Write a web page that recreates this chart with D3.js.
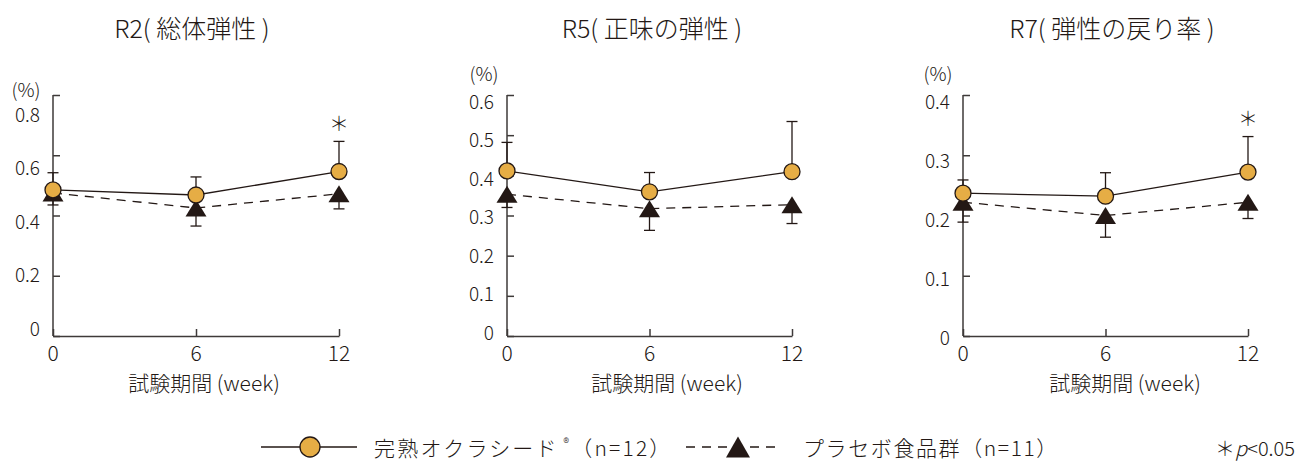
<!DOCTYPE html>
<html>
<head>
<meta charset="utf-8">
<script src="https://cdn.jsdelivr.net/npm/d3@7"></script>
<style>
  html, body { margin: 0; padding: 0; background: #fff; }
  svg { display: block; }
  text { font-family: "Noto Sans CJK JP", "Noto Sans", sans-serif; fill: #231815; font-weight: 300; }
</style>
</head>
<body>
<svg id="chart" width="1297" height="462"></svg>
<script>
// ---- data ----
const weeks = [0, 6, 12];
const weekLabels = ["0", "6", "12"];
const titles = ["R2( 総体弾性 )", "R5( 正味の弾性 )", "R7( 弾性の戻り率 )"];
const yMax = [0.8, 0.6, 0.4];
const yTicks = [
  [0, 0.2, 0.4, 0.6, 0.8],
  [0, 0.1, 0.2, 0.3, 0.4, 0.5, 0.6],
  [0, 0.1, 0.2, 0.3, 0.4]
];
const okraMean = [[0.485, 0.468, 0.546], [0.411, 0.359, 0.409], [0.237, 0.232, 0.272]];
const okraErr  = [[0.057, 0.060, 0.100], [0.071, 0.048, 0.125], [0.022, 0.039, 0.059]];
const placMean = [[0.475, 0.425, 0.472], [0.353, 0.317, 0.327], [0.222, 0.200, 0.222]];
const placErr  = [[0.040, 0.060, 0.050], [0.033, 0.054, 0.047], [0.033, 0.036, 0.027]];
const significant = [[false, false, true], [false, false, false], [false, false, true]];
const xAxisTitle = "試験期間 (week)";
const unitLabel = "(%)";
const legendOkra = "完熟オクラシード";
const legendOkraN = "（n=12）";
const legendPlac = "プラセボ食品群（n=11）";

// ---- layout ----
const layout = [
  { x0: 53,  x1: 339,  titleX: 192, unitX: 26,  unitY: 88, labelRange: [327, 113], xTitleX: 204 },
  { x0: 507, x1: 792,  titleX: 652, unitX: 484, unitY: 72, labelRange: [331, 100], xTitleX: 667 },
  { x0: 963, x1: 1248, titleX: 1112, unitX: 938, unitY: 72, labelRange: [336, 100], xTitleX: 1125 }
];
const yBottom = 336, yTop = 95;
const ink = "#231815";
const axisColor = "#3e3a39";
const orange = "#E6AD45";

const svg = d3.select("#chart");

function trianglePath(cx, cy, w, h) {
  return `M${cx - w / 2},${cy + h / 2}L${cx},${cy - h / 2}L${cx + w / 2},${cy + h / 2}Z`;
}

layout.forEach((L, i) => {
  const g = svg.append("g");
  const x = d3.scaleLinear().domain([0, 12]).range([L.x0, L.x1]);
  const y = d3.scaleLinear().domain([0, yMax[i]]).range([yBottom, yTop]);
  const yLab = d3.scaleLinear().domain([0, yMax[i]]).range(L.labelRange);

  // title
  g.append("text").attr("x", L.titleX).attr("y", 27)
    .attr("text-anchor", "middle").attr("dominant-baseline", "central")
    .style("font-size", "25px").text(titles[i]);

  // y axis (inner ticks, no labels)
  const ya = g.append("g").attr("transform", `translate(${L.x0},0)`)
    .call(d3.axisLeft(y).tickValues(yTicks[i]).tickSize(-7).tickSizeOuter(0).tickFormat(""));
  ya.selectAll("path,line").attr("stroke", axisColor).attr("stroke-width", 1.5);
  ya.select(".domain").attr("d", `M0,${yBottom}V${yTop}`);

  // y tick labels
  g.selectAll(".ylab").data(yTicks[i]).join("text")
    .attr("x", L.x0 - 13).attr("y", d => yLab(d))
    .attr("text-anchor", "end").attr("dominant-baseline", "central")
    .style("font-size", "19px")
    .text(d => d === 0 ? "0" : d3.format(".1f")(d));

  // unit
  g.append("text").attr("x", L.unitX).attr("y", L.unitY)
    .attr("text-anchor", "middle").attr("dominant-baseline", "central")
    .style("font-size", "19px").text(unitLabel);

  // x axis (inner ticks)
  const xa = g.append("g").attr("transform", `translate(0,${yBottom})`)
    .call(d3.axisBottom(x).tickValues(weeks).tickSize(-7).tickSizeOuter(0).tickFormat(""));
  xa.selectAll("path,line").attr("stroke", axisColor).attr("stroke-width", 1.5);

  g.selectAll(".xlab").data(weeks).join("text")
    .attr("x", d => x(d)).attr("y", 352)
    .attr("text-anchor", "middle").attr("dominant-baseline", "central")
    .style("font-size", "21px")
    .text((d, j) => weekLabels[j]);

  g.append("text").attr("x", L.xTitleX).attr("y", 382)
    .attr("text-anchor", "middle").attr("dominant-baseline", "central")
    .style("font-size", "21px").text(xAxisTitle);

  const okra = weeks.map((w, j) => ({ w, v: okraMean[i][j], e: okraErr[i][j], s: significant[i][j] }));
  const plac = weeks.map((w, j) => ({ w, v: placMean[i][j], e: placErr[i][j] }));

  // error bars
  const capW = 11;
  okra.forEach(d => {
    g.append("line").attr("x1", x(d.w)).attr("x2", x(d.w))
      .attr("y1", y(d.v)).attr("y2", y(d.v + d.e)).attr("stroke", ink).attr("stroke-width", 1.3);
    g.append("line").attr("x1", x(d.w) - capW / 2).attr("x2", x(d.w) + capW / 2)
      .attr("y1", y(d.v + d.e)).attr("y2", y(d.v + d.e)).attr("stroke", ink).attr("stroke-width", 1.3);
  });
  plac.forEach(d => {
    g.append("line").attr("x1", x(d.w)).attr("x2", x(d.w))
      .attr("y1", y(d.v)).attr("y2", y(d.v - d.e)).attr("stroke", ink).attr("stroke-width", 1.3);
    g.append("line").attr("x1", x(d.w) - capW / 2).attr("x2", x(d.w) + capW / 2)
      .attr("y1", y(d.v - d.e)).attr("y2", y(d.v - d.e)).attr("stroke", ink).attr("stroke-width", 1.3);
  });

  // lines
  const line = d3.line().x(d => x(d.w)).y(d => y(d.v));
  g.append("path").datum(plac).attr("d", line).attr("fill", "none")
    .attr("stroke", ink).attr("stroke-width", 1.3).attr("stroke-dasharray", "9,7");
  g.append("path").datum(okra).attr("d", line).attr("fill", "none")
    .attr("stroke", ink).attr("stroke-width", 1.3);

  // markers
  g.selectAll(".tri").data(plac).join("path")
    .attr("d", d => trianglePath(x(d.w), y(d.v), 21, 17)).attr("fill", ink);
  g.selectAll(".circ").data(okra).join("circle")
    .attr("cx", d => x(d.w)).attr("cy", d => y(d.v)).attr("r", 8)
    .attr("fill", orange).attr("stroke", ink).attr("stroke-width", 1.3);

  // significance
  okra.filter(d => d.s).forEach(d => {
    g.append("text").attr("x", x(d.w)).attr("y", y(d.v + d.e) - 19)
      .attr("text-anchor", "middle").attr("dominant-baseline", "central")
      .style("font-size", "20px").text("＊");
  });
});

// ---- legend ----
const lg = svg.append("g");
const ly = 447;
lg.append("line").attr("x1", 261).attr("x2", 357).attr("y1", ly).attr("y2", ly)
  .attr("stroke", ink).attr("stroke-width", 1.3);
lg.append("circle").attr("cx", 310).attr("cy", ly).attr("r", 10)
  .attr("fill", orange).attr("stroke", ink).attr("stroke-width", 1.3);
const t1 = lg.append("text").attr("x", 374).attr("y", ly)
  .attr("dominant-baseline", "central").style("font-size", "21px").style("letter-spacing", "2.2px");
t1.append("tspan").text(legendOkra);
t1.append("tspan").attr("dy", -6).style("font-size", "12px").text(" ®");
t1.append("tspan").attr("dy", 6).text(legendOkraN);

lg.append("line").attr("x1", 686).attr("x2", 781).attr("y1", ly).attr("y2", ly)
  .attr("stroke", ink).attr("stroke-width", 1.3).attr("stroke-dasharray", "9,7");
lg.append("path").attr("d", trianglePath(738, ly, 24, 21)).attr("fill", ink);
lg.append("text").attr("x", 803).attr("y", ly)
  .attr("dominant-baseline", "central").style("font-size", "21px").style("letter-spacing", "1.6px")
  .text(legendPlac);

const t3 = lg.append("text").attr("x", 1295).attr("y", ly).attr("text-anchor", "end")
  .attr("dominant-baseline", "central").style("font-size", "20px");
t3.append("tspan").text("＊");
t3.append("tspan").style("font-style", "italic").text("p");
t3.append("tspan").text("<0.05");
</script>
</body>
</html>
